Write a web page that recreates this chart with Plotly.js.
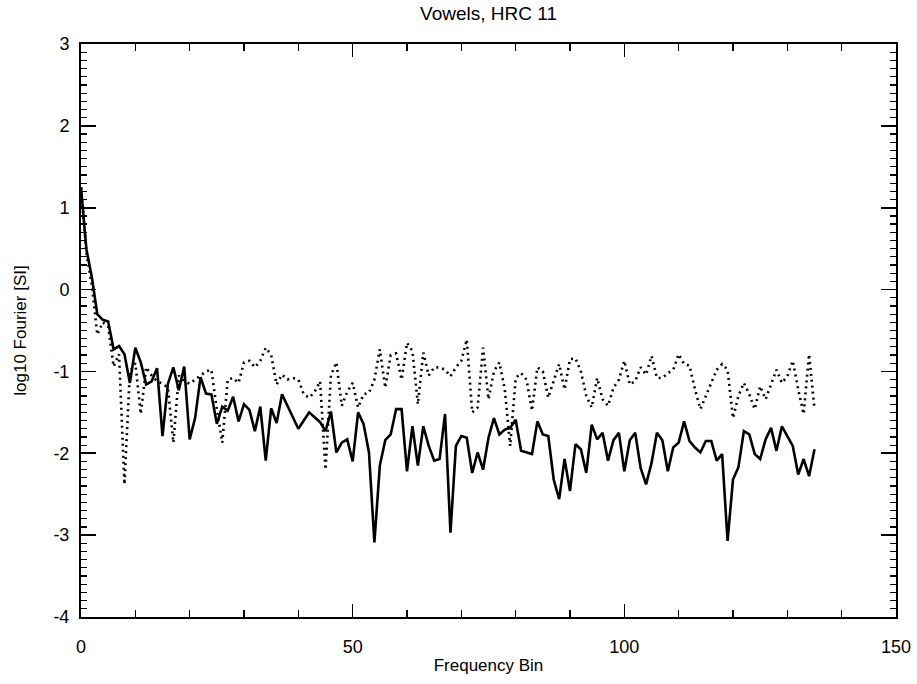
<!DOCTYPE html>
<html>
<head>
<meta charset="utf-8">
<script src="https://cdn.plot.ly/plotly-3.0.1.min.js"></script>
<style>html,body{margin:0;padding:0;background:#fff;}#chart{width:917px;height:684px;}</style>
</head>
<body>
<div id="chart"></div>
<script>
// Frequency bins 0..135
const bins = Array.from({length: 136}, (_, i) => i);

// Solid curve (log10 Fourier)
const solidSeries = [
 1.25, 0.49, 0.15, -0.30, -0.37, -0.39, -0.73, -0.69, -0.79, -1.14,
 -0.71, -0.89, -1.16, -1.12, -0.96, -1.79, -1.15, -0.95, -1.23, -0.94,
 -1.83, -1.57, -1.07, -1.27, -1.28, -1.64, -1.43, -1.48, -1.31, -1.61,
 -1.40, -1.47, -1.73, -1.43, -2.09, -1.45, -1.63, -1.28, -1.42, -1.55,
 -1.70, -1.60, -1.50, -1.56, -1.62, -1.73, -1.49, -1.99, -1.87, -1.83,
 -2.10, -1.50, -1.64, -1.99, -3.09, -2.15, -1.84, -1.77, -1.46, -1.46,
 -2.22, -1.67, -2.15, -1.67, -1.91, -2.09, -2.07, -1.52, -2.97, -1.91,
 -1.79, -1.81, -2.24, -1.99, -2.20, -1.81, -1.57, -1.77, -1.71, -1.69,
 -1.59, -1.97, -1.99, -2.01, -1.61, -1.77, -1.79, -2.32, -2.56, -2.07,
 -2.46, -1.89, -1.95, -2.24, -1.65, -1.83, -1.75, -2.09, -1.84, -1.75,
 -2.22, -1.84, -1.75, -2.18, -2.38, -2.12, -1.75, -1.84, -2.22, -1.93,
 -1.87, -1.61, -1.85, -1.93, -1.99, -1.85, -1.85, -2.09, -2.01, -3.07,
 -2.32, -2.17, -1.73, -1.77, -2.01, -2.07, -1.83, -1.69, -1.97, -1.67,
 -1.79, -1.91, -2.26, -2.07, -2.28, -1.95
];

// Dotted curve
const dottedSeries = [
 1.25, 0.45, 0.05, -0.55, -0.40, -0.45, -0.94, -0.79, -2.38, -1.00,
 -0.90, -1.52, -0.95, -1.05, -1.12, -1.15, -1.20, -1.87, -1.05, -1.12,
 -1.15, -1.10, -1.05, -1.00, -0.98, -1.46, -1.87, -1.10, -1.08, -1.14,
 -0.89, -0.87, -0.95, -0.87, -0.71, -0.80, -1.16, -1.04, -1.10, -1.08,
 -1.10, -1.28, -1.32, -1.25, -1.12, -2.20, -1.05, -0.89, -1.42, -1.25,
 -1.14, -1.44, -1.28, -1.26, -1.10, -0.73, -1.20, -0.80, -0.78, -1.10,
 -0.65, -0.75, -1.40, -0.77, -1.05, -0.95, -0.95, -0.98, -1.06, -0.95,
 -0.87, -0.61, -1.50, -1.44, -0.71, -1.34, -1.00, -0.89, -1.22, -1.91,
 -1.08, -1.02, -1.10, -1.48, -0.95, -1.00, -1.32, -1.10, -0.91, -1.22,
 -0.85, -0.84, -1.00, -1.30, -1.44, -1.08, -1.34, -1.42, -1.20, -1.10,
 -0.87, -1.16, -1.12, -0.95, -1.04, -0.81, -1.08, -1.08, -1.02, -0.98,
 -0.79, -0.91, -0.93, -1.22, -1.46, -1.30, -1.15, -0.98, -0.91, -0.98,
 -1.57, -1.30, -1.14, -1.28, -1.46, -1.18, -1.34, -1.16, -0.98, -1.14,
 -1.06, -0.87, -1.22, -1.52, -0.79, -1.46
];

const xTickVals = [0, 50, 100, 150];
const xTickText = ["0", "50", "100", "150"];
const yTickVals = [-4, -3, -2, -1, 0, 1, 2, 3];
const yTickText = ["-4", "-3", "-2", "-1", "0", "1", "2", "3"];

const FONT = "Liberation Sans, Arial, sans-serif";

const traces = [
  {x: bins, y: dottedSeries, type: 'scatter', mode: 'lines',
   line: {color: '#000', width: 2.6, dash: '2px,4px'}, hoverinfo: 'skip'},
  {x: bins, y: solidSeries, type: 'scatter', mode: 'lines',
   line: {color: '#000', width: 2.6}, hoverinfo: 'skip'}
];

const layout = {
  width: 917, height: 684,
  margin: {l: 80.5, r: 21, t: 44, b: 67, pad: 0},
  paper_bgcolor: '#fff', plot_bgcolor: '#fff',
  showlegend: false,
  font: {family: FONT, color: '#000', size: 16},
  title: {text: 'Vowels, HRC 11', x: 0.5, xref: 'paper', y: 0.99, yanchor: 'top',
          font: {family: FONT, size: 19, color: '#000'}},
  xaxis: {
    range: [0, 150], showgrid: false, zeroline: false,
    showline: true, linecolor: '#000', linewidth: 2, mirror: 'ticks',
    ticks: 'inside', ticklen: 13, tickwidth: 1.6, tickcolor: '#000',
    tickvals: xTickVals, ticktext: xTickText, ticklabelstandoff: 12,
    tickfont: {family: FONT, size: 18, color: '#000'},
    minor: {ticks: 'inside', dtick: 10, ticklen: 7, tickwidth: 1.6, tickcolor: '#000', showgrid: false},
    title: {text: 'Frequency Bin', font: {family: FONT, size: 17, color: '#000'}, standoff: 4}
  },
  yaxis: {
    range: [-4, 3], showgrid: false, zeroline: false,
    showline: true, linecolor: '#000', linewidth: 2, mirror: 'ticks',
    ticks: 'inside', ticklen: 15, tickwidth: 1.6, tickcolor: '#000',
    tickvals: yTickVals, ticktext: yTickText, ticklabelstandoff: 6,
    tickfont: {family: FONT, size: 18, color: '#000'},
    minor: {ticks: 'inside', dtick: 0.1, ticklen: 6, tickwidth: 1.2, tickcolor: '#000', showgrid: false},
    title: {text: 'log10 Fourier [SI]', font: {family: FONT, size: 17, color: '#000'}, standoff: 22}
  }
};

Plotly.newPlot('chart', traces, layout, {staticPlot: true, displayModeBar: false});
</script>
</body>
</html>
